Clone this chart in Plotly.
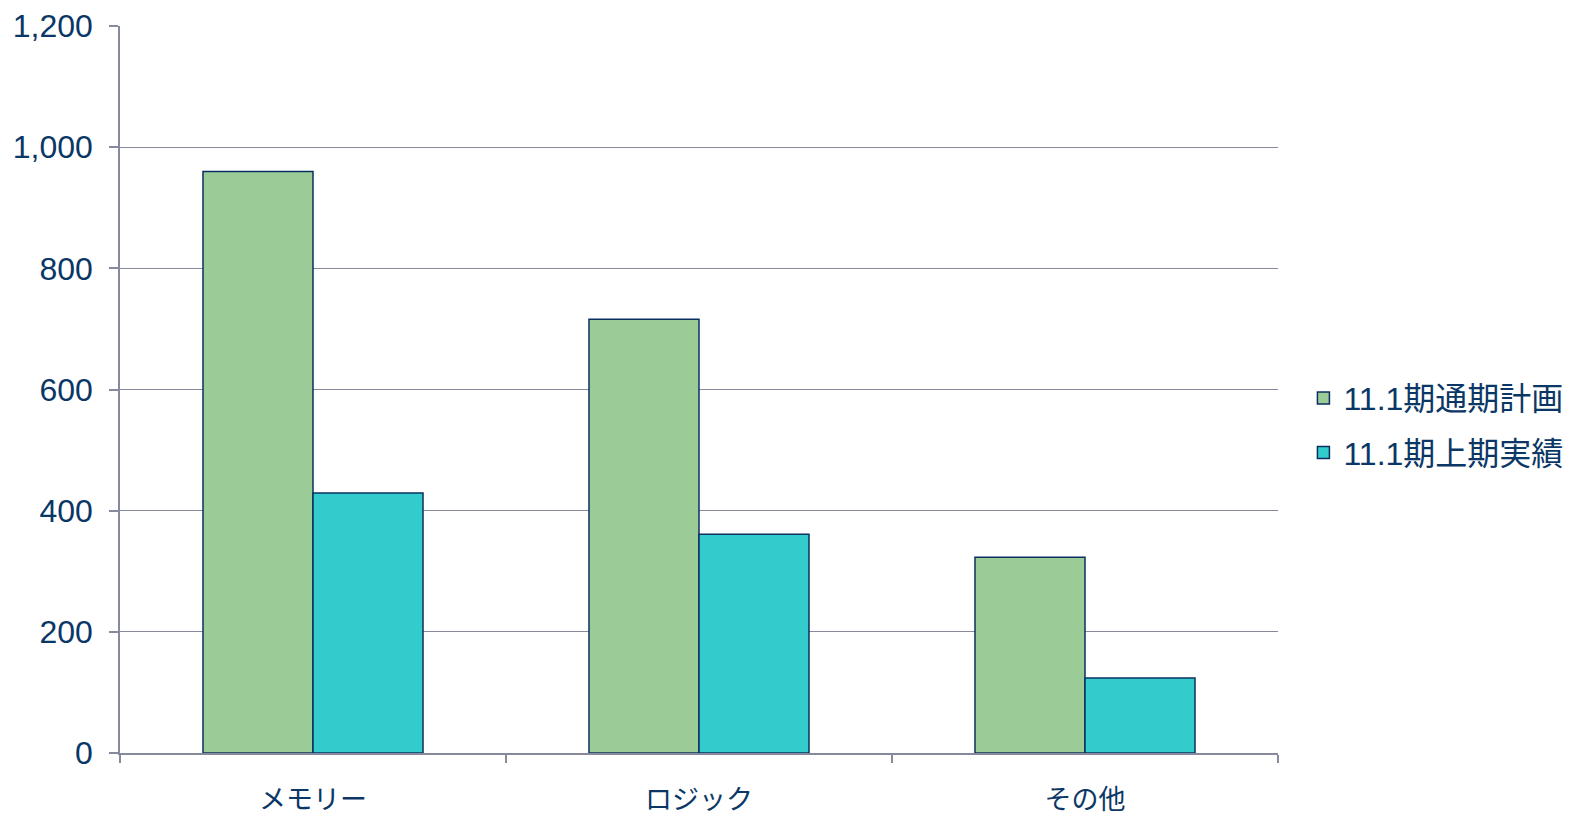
import plotly.graph_objects as go

categories = ["メモリー", "ロジック", "その他"]
plan_values = [960, 716, 323]
actual_values = [429, 361, 124]
series_names = ["11.1期通期計画", "11.1期上期実績"]
y_ticks = [0, 200, 400, 600, 800, 1000, 1200]
y_tick_labels = ["0", "200", "400", "600", "800", "1,000", "1,200"]

TEXT = "#0B3766"
AXIS = "#868A9C"
EDGE = "#0B3060"
FONT = "Liberation Sans, Arial, Noto Sans CJK JP, sans-serif"

fig = go.Figure()
fig.add_trace(go.Bar(x=categories, y=plan_values, name=series_names[0], legendgroup="a",
                     marker=dict(color="#9BCC98", line=dict(color=EDGE, width=1.5))))
fig.add_trace(go.Bar(x=categories, y=actual_values, name=series_names[1], legendgroup="b",
                     marker=dict(color="#33CCCC", line=dict(color=EDGE, width=1.5))))

fig.update_layout(
    width=1557, height=811,
    margin=dict(l=112, r=287, t=18, b=66),
    paper_bgcolor="white", plot_bgcolor="white",
    barmode="group", bargap=0.43, bargroupgap=0,
    font=dict(family=FONT, size=32, color=TEXT),
    showlegend=True,
    legend=dict(xref="container", yref="container", x=0.832, y=0.485,
                xanchor="left", yanchor="middle",
                font=dict(size=32, color=TEXT), itemwidth=30, tracegroupgap=10,
                traceorder="grouped", bgcolor="rgba(0,0,0,0)"),
)
fig.update_xaxes(showline=True, linecolor=AXIS, linewidth=1.5, automargin=False,
                 ticks="outside", tickson="boundaries", ticklen=8, tickcolor=AXIS, tickwidth=1.5,
                 showgrid=False, tickfont=dict(size=27, color=TEXT), ticklabelstandoff=22)
fig.update_yaxes(range=[0, 1200], tickvals=y_ticks, ticktext=y_tick_labels, automargin=False,
                 showline=True, linecolor=AXIS, linewidth=1.5,
                 ticks="outside", ticklen=9, tickcolor=AXIS, tickwidth=1.5,
                 showgrid=True, gridcolor=AXIS, gridwidth=1.2, zeroline=False,
                 tickfont=dict(size=32, color=TEXT), ticklabelstandoff=10)

fig.write_html("out.html")
